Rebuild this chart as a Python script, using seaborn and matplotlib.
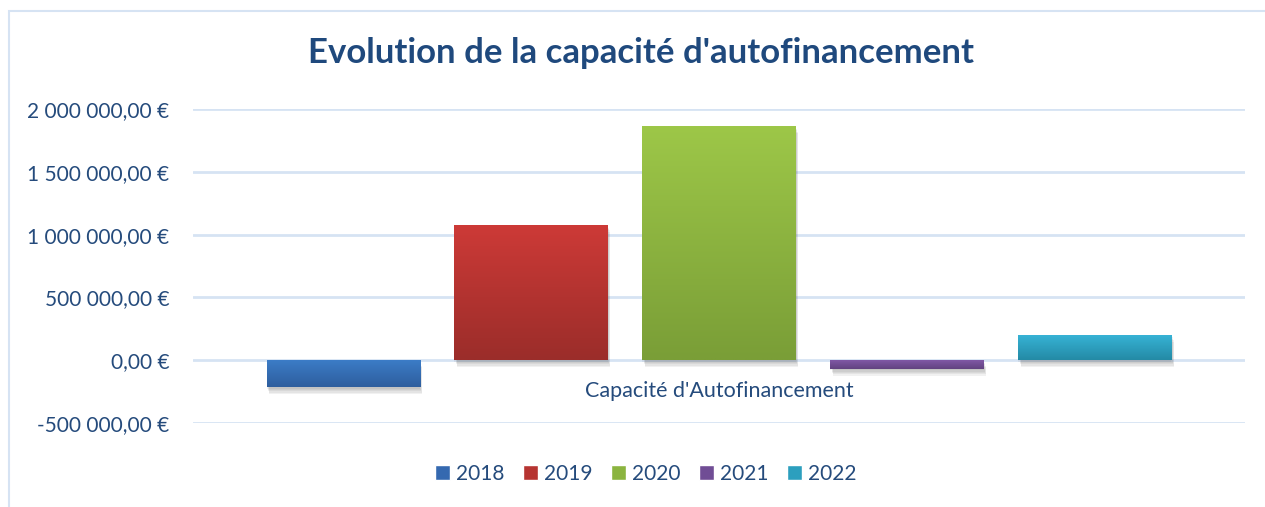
import numpy as np
import pandas as pd
import seaborn as sns
import matplotlib
matplotlib.use("Agg")
from matplotlib import pyplot as plt
from matplotlib import patheffects as pe
from matplotlib.colors import to_rgb
from matplotlib.patches import Rectangle
from matplotlib.ticker import FuncFormatter, MultipleLocator

# data
years = ["2018", "2019", "2020", "2021", "2022"]
caf = [-216000, 1077000, 1864000, -68000, 203000]
category = "Capacité d'Autofinancement"
title = "Evolution de la capacité d'autofinancement"

top_colors = ["#3C7DC8", "#CD3A37", "#9DC748", "#8058A5", "#37B4D7"]
bottom_colors = ["#2E5E9E", "#9B2D2A", "#7A9E37", "#624280", "#248AA5"]
base_colors = ["#3569B0", "#B63431", "#8BB43F", "#704D95", "#2C9FBE"]

TEXT = "#254B7C"
GRID = "#D6E3F3"

df = pd.DataFrame({"cat": [category] * len(years), "year": years, "value": caf})

sns.set_theme(style="white")
plt.rcParams["font.family"] = ["Lato", "DejaVu Sans"]

fig = plt.figure(figsize=(12.65, 5.07), dpi=100)
ax = fig.add_axes([193 / 1265, 84 / 507, 1052 / 1265, 314 / 507])

sns.barplot(data=df, x="cat", y="value", hue="year", palette=base_colors,
            width=0.8935, gap=0.186, ax=ax, legend=True, saturation=1, zorder=3)

# vertical gradient + soft shadow on each bar, like the Excel style
shadow = [pe.SimplePatchShadow(offset=(dx, dy), shadow_rgbFace="#666666", alpha=0.09)
          for dx, dy in [(0, -1), (1, -2), (1, -3), (2, -4), (2, -5)]]
bars = [p for p in ax.patches if abs(p.get_width()) > 0][:len(years)]
for p, c_top, c_bot in zip(bars, top_colors, bottom_colors):
    x0, w = p.get_x(), p.get_width()
    y_lo, y_hi = sorted([p.get_y(), p.get_y() + p.get_height()])
    grad = np.linspace(0, 1, 64)[:, None, None]
    img = (1 - grad) * np.array(to_rgb(c_top)) + grad * np.array(to_rgb(c_bot))
    p.set_edgecolor("none")
    p.set_path_effects(shadow + [pe.Normal()])
    im = ax.imshow(img, extent=[x0, x0 + w, y_lo, y_hi], aspect="auto",
                   origin="upper", zorder=4, interpolation="bilinear")
    im.set_clip_path(p)

ax.set_xlim(-0.5, 0.5)
ax.set_ylim(-500000, 2000000)
ax.yaxis.set_major_locator(MultipleLocator(500000))
ax.yaxis.set_major_formatter(FuncFormatter(
    lambda v, _: f"{v:,.2f}".replace(",", " ").replace(".", ",") + " €"))
ax.grid(axis="y", color=GRID, lw=2, zorder=0)
ax.set_axisbelow(True)
for s in ax.spines.values():
    s.set_visible(False)
ax.spines["bottom"].set_position(("data", 0))
ax.set_xticks([0])
ax.set_xticklabels([category])
ax.tick_params(axis="x", length=0, pad=15, labelsize=15.5, labelcolor=TEXT)
ax.tick_params(axis="y", length=0, pad=17, labelsize=15, labelcolor=TEXT)
ax.set_xlabel("")
ax.set_ylabel("")

handles = [Rectangle((0, 0), 1, 1, facecolor=c) for c in base_colors]
ax.legend(handles, years, loc="center", bbox_to_anchor=(646 / 1265, 1 - 474 / 507),
          bbox_transform=fig.transFigure, ncol=5, frameon=False, fontsize=15,
          handlelength=0.7, handleheight=0.7, handletextpad=0.3, columnspacing=0.9,
          labelcolor=TEXT)

fig.text(641 / 1265, 1 - 53 / 507, title, ha="center", va="center",
         fontsize=25, fontweight="bold", color="#1F497D")

# chart frame
fig.add_artist(Rectangle((9 / 1265, -0.05), 1.1, 1 - 11 / 507 + 0.05,
                         transform=fig.transFigure, fill=False, edgecolor=GRID, lw=1.5))

fig.savefig("out.png", dpi=100)
